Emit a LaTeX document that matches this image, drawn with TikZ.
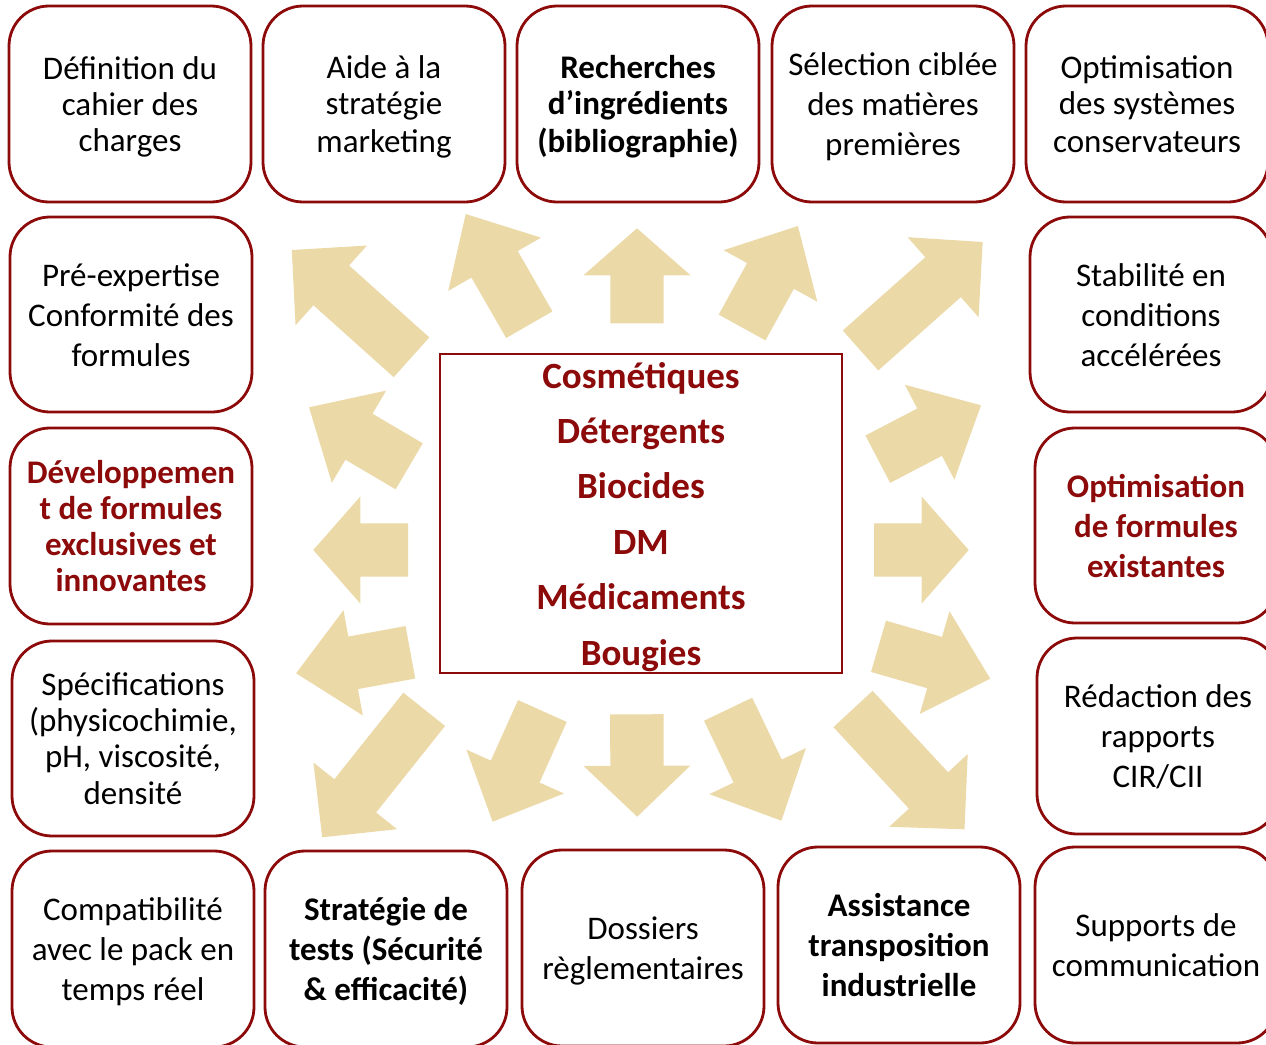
\documentclass[tikz,border=0pt]{standalone}
\usepackage{fontspec}
\setmainfont{Carlito}
\usetikzlibrary{calc}
\definecolor{dred}{RGB}{140,10,10}
\definecolor{arrowtan}{RGB}{235,217,167}
\newcommand\mkreg[1]{\fontsize{33}{#1}\selectfont}
\newcommand\mkbold[1]{\fontsize{33}{#1}\selectfont\bfseries}
\newcommand\lnstrut{\rule[-8pt]{0pt}{39pt}}
\newcommand\blockarrow[5]{%
  \pgfmathsetmacro\baang{atan2((#4)-(#2),(#3)-(#1))}%
  \pgfmathsetmacro\balen{veclen((#3)-(#1),(#4)-(#2))}%
  \pgfmathsetmacro\babase{\balen-(#5)}%
  \fill[arrowfill, shift={(#1,#2)}, rotate=-\baang]
    (0,-26.7) -- (\babase,-26.7) -- (\babase,-53.5) -- (\balen,0)
    -- (\babase,53.5) -- (\babase,26.7) -- (0,26.7) -- cycle;}
\begin{document}
\begin{tikzpicture}[x=1pt,y=-1pt,
  box/.style={draw=dred, line width=2.8pt, rounded corners=40pt, fill=white,
    minimum width=242pt, minimum height=196pt, align=center, inner sep=0pt},
  ctrbox/.style={draw=dred, line width=2.4pt, minimum width=402pt, minimum height=319pt, inner sep=0pt},
  ctrtext/.style={anchor=base, text=dred, font=\fontsize{37}{40}\selectfont\bfseries, inner sep=0pt},
  arrowfill/.style={fill=arrowtan}]
\useasboundingbox (0,0) rectangle (1266,1044);
\clip (0,0) rectangle (1266,1044);

% top row
\node[box, font=\mkreg{36}] (b1) at (130,104) {\lnstrut Définition du\\cahier des\\charges\lnstrut};
\node[box, font=\mkreg{36}] (b2) at (384,104) {\lnstrut Aide à la\\stratégie\\marketing\lnstrut};
\node[box, font=\mkbold{36}] (b3) at (638,104) {\lnstrut Recherches\\d’ingrédients\\(bibliographie)\lnstrut};
\node[box, font=\mkreg{40}] (b4) at (893,104) {\lnstrut Sélection ciblée\\des matières\\premières\lnstrut};
\node[box, font=\mkreg{36}] (b5) at (1147,104) {\lnstrut Optimisation\\des systèmes\\conservateurs\lnstrut};
% left column
\node[box, font=\mkreg{40}, minimum height=195pt] (l2) at (131,314.5) {\lnstrut Pré-expertise\\Conformité des\\formules\lnstrut};
\node[box, font=\mkbold{36}, text=dred] (l3) at (131,526) {\lnstrut Développemen\\t de formules\\exclusives et\\innovantes\lnstrut};
\node[box, font=\mkreg{36}, minimum height=195pt] (l4) at (133,738.5) {\lnstrut Spécifications\\(physicochimie,\\pH, viscosité,\\densité\lnstrut};
% bottom row
\node[box, font=\mkreg{40}] (d1) at (133,949) {\lnstrut Compatibilité\\avec le pack en\\temps réel\lnstrut};
\node[box, font=\mkbold{40}] (d2) at (386,949) {\lnstrut Stratégie de\\tests (Sécurité\\\& efficacité)\lnstrut};
\node[box, font=\mkreg{40}] (d3) at (643,948) {\lnstrut Dossiers\\règlementaires\lnstrut};
\node[box, font=\mkbold{40}] (d4) at (899,945) {\lnstrut Assistance\\transposition\\industrielle\lnstrut};
\node[box, font=\mkreg{40}] (d5) at (1156,945) {\lnstrut Supports de\\communication\lnstrut};
% right column
\node[box, font=\mkreg{40}, minimum height=195pt] (r2) at (1151,314.5) {\lnstrut Stabilité en\\conditions\\accélérées\lnstrut};
\node[box, font=\mkbold{40}, text=dred, minimum height=195pt] (r3) at (1156,525.5) {\lnstrut Optimisation\\de formules\\existantes\lnstrut};
\node[box, font=\mkreg{40}] (r4) at (1158,736) {\lnstrut Rédaction des\\rapports\\CIR/CII\lnstrut};

% centre
\node[ctrbox] (ctr) at (641,513.5) {};
\node[ctrtext] (c1) at (641,388) {Cosmétiques};
\node[ctrtext] (c2) at (641,443.5) {Détergents};
\node[ctrtext] (c3) at (641,498.8) {Biocides};
\node[ctrtext] (c4) at (641,554.2) {DM};
\node[ctrtext] (c5) at (641,609.6) {Médicaments};
\node[ctrtext] (c6) at (641,665) {Bougies};

% arrows
\blockarrow{411.5}{357.3}{291.8}{250}{53}
\blockarrow{529.3}{324.7}{465.7}{214}{58}
\blockarrow{637}{323.3}{637}{228.3}{47}
\blockarrow{742.1}{327.5}{797.9}{226}{57}
\blockarrow{860.5}{350.5}{982.7}{242}{53}
\blockarrow{877.8}{459.2}{981}{405.3}{58}
\blockarrow{874}{550}{968.7}{550}{47}
\blockarrow{878.5}{646.3}{990.3}{678.7}{58}
\blockarrow{853}{709}{964.5}{829.3}{53}
\blockarrow{728.1}{709.2}{781.4}{820.7}{55}
\blockarrow{636.8}{714.3}{637.2}{816.7}{51}
\blockarrow{542.4}{711}{492.6}{821.7}{55}
\blockarrow{424.2}{709.3}{322.2}{837.3}{53}
\blockarrow{410.4}{652.3}{296.1}{673.3}{58}
\blockarrow{408}{550}{313.3}{550}{47}
\blockarrow{409.2}{466.3}{309}{407.3}{58}
\end{tikzpicture}
\end{document}
